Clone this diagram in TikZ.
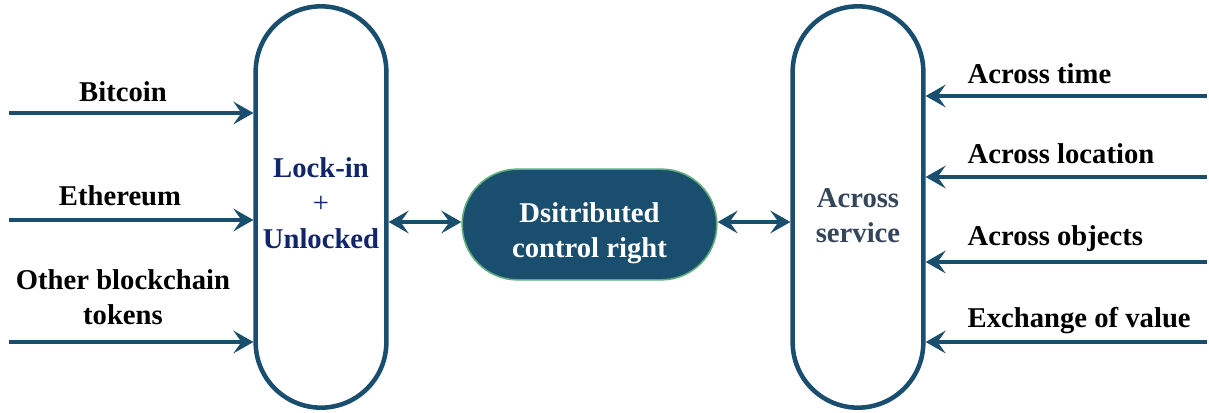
\documentclass[tikz,border=0pt]{standalone}
\usepackage{fontspec}
\setmainfont{Liberation Serif}
\usetikzlibrary{arrows.meta}
\definecolor{linkblue}{HTML}{1A4E6E}
\definecolor{locknavy}{HTML}{10256A}
\definecolor{servgray}{HTML}{34465A}
\definecolor{rightgreen}{HTML}{5FAE7A}
\begin{document}
\begin{tikzpicture}[x=0.75pt,y=-0.75pt]
	\tikzstyle{pill}=[draw=linkblue,line width=3.4pt,fill=white,rounded corners=49pt,minimum width=98pt,minimum height=301pt]
	\tikzstyle{core}=[draw=rightgreen,line width=1.2pt,fill=linkblue,rounded corners=41.5pt,minimum width=191pt,minimum height=83pt]
	\tikzstyle{lab}=[align=center,font=\fontsize{21.5}{26.5}\selectfont\bfseries]
	\tikzstyle{flow}=[draw=linkblue,line width=3.4pt,-{Stealth[length=15pt,width=17pt,inset=6pt]}]
	\tikzstyle{both}=[draw=linkblue,line width=3.4pt,{Stealth[length=15pt,width=17pt,inset=6pt]}-{Stealth[length=15pt,width=17pt,inset=6pt]}]
	\useasboundingbox (0,0) rectangle (1209,413);
	\node[pill] (lock) at (321,207){};
	\node[pill] (serv) at (858,207){};
	\node[core] (dcr) at (589.5,224.5){};
	\node[lab,text=locknavy] (tlock) at (321,203){Lock-in\\{\mdseries+}\\Unlocked};
	\node[lab,text=servgray] (tserv) at (858,216){Across\\service};
	\node[lab,text=white] (tdcr) at (589.5,233){Dsitributed\\control right};
	\coordinate (btc) at (9,113);
	\coordinate (eth) at (9,220);
	\coordinate (oth) at (9,342);
	\coordinate (tim) at (1207,96);
	\coordinate (loc) at (1207,177);
	\coordinate (obj) at (1207,262);
	\coordinate (val) at (1207,342);
	\node[lab] (lbtc) at (123,92){Bitcoin};
	\node[lab] (leth) at (120,196){Ethereum};
	\node[lab] (loth) at (123,297){Other blockchain\\tokens};
	\node[lab,anchor=west] (ltim) at (963,74){Across time};
	\node[lab,anchor=west] (lloc) at (963,154){Across location};
	\node[lab,anchor=west] (lobj) at (963,239){Across objects};
	\node[lab,anchor=west] (lval) at (963,321){Exchange of value};
	\draw[flow] (btc) -- (btc -| lock.west);
	\draw[flow] (eth) -- (eth -| lock.west);
	\draw[flow] (oth) -- (oth -| lock.west);
	\draw[flow] (tim) -- (tim -| serv.east);
	\draw[flow] (loc) -- (loc -| serv.east);
	\draw[flow] (obj) -- (obj -| serv.east);
	\draw[flow] (val) -- (val -| serv.east);
	\draw[both] (lock.east |- 0,222) -- (dcr.west |- 0,222);
	\draw[both] (dcr.east |- 0,222) -- (serv.west |- 0,222);
\end{tikzpicture}
\end{document}
